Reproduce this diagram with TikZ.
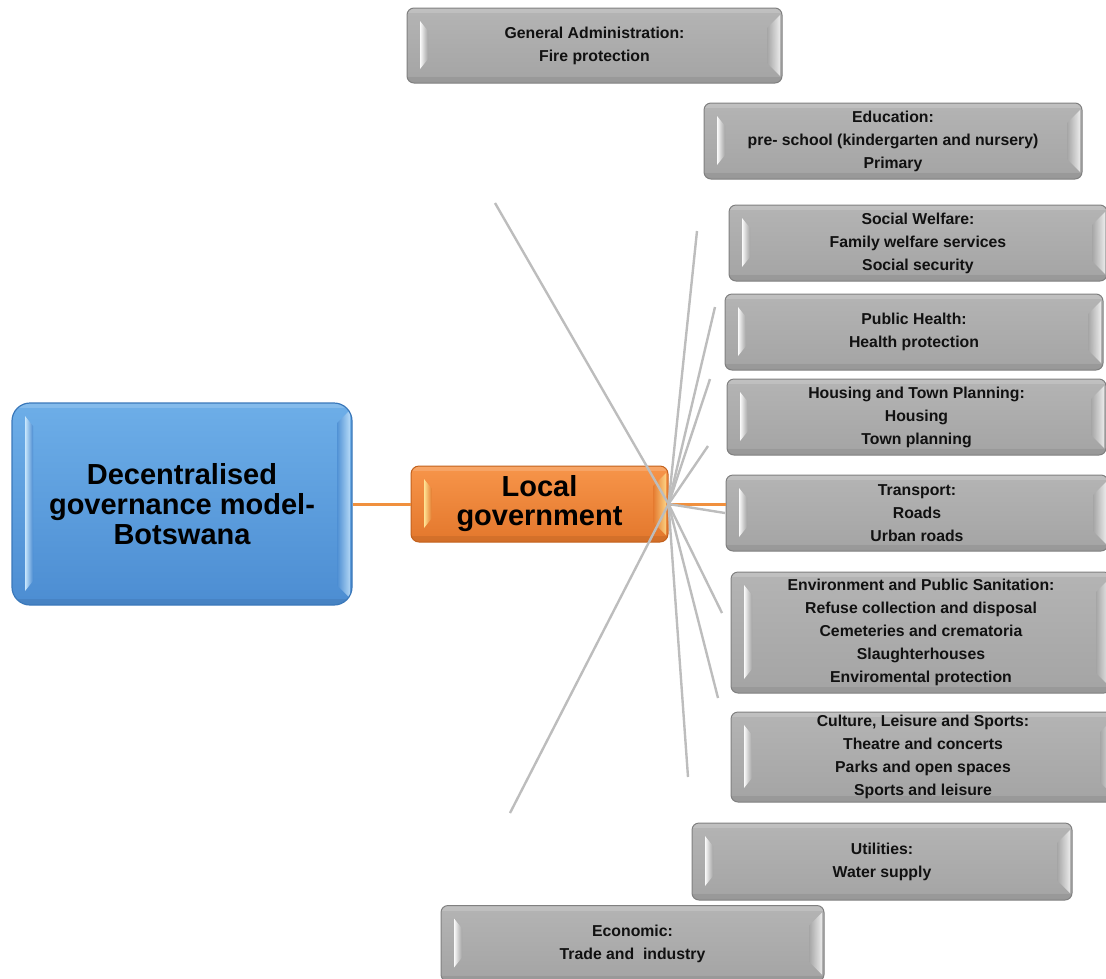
\documentclass[tikz,border=0pt]{standalone}
\usepackage{fontspec}
\setmainfont{Liberation Sans}
\usetikzlibrary{calc}

\definecolor{greytop}{HTML}{B4B4B4}
\definecolor{greybot}{HTML}{A4A4A4}
\definecolor{greyline}{HTML}{808080}
\definecolor{greyhi}{HTML}{FAFAFA}
\definecolor{bluetop}{HTML}{6DAEE8}
\definecolor{bluebot}{HTML}{4C8DD2}
\definecolor{blueline}{HTML}{3A78BA}
\definecolor{bluehi}{HTML}{C8E6FC}
\definecolor{orgtop}{HTML}{F7954A}
\definecolor{orgbot}{HTML}{E3772C}
\definecolor{orgline}{HTML}{C2611D}
\definecolor{orghi}{HTML}{FFE394}
\definecolor{spokec}{HTML}{BDBDBD}
\definecolor{linkc}{HTML}{F0903E}
\definecolor{textc}{HTML}{111111}
\colorlet{bevbasecol}{greybot}
\colorlet{bevhicol}{greyhi}

\tikzset{
  bevbase/.code={\colorlet{bevbasecol}{#1}},
  bevhi/.code={\colorlet{bevhicol}{#1}},
  % bevelled facets drawn inside a box
  bevel/.style={path picture={
    \fill[white,opacity=0.16,sharp corners]
      (path picture bounding box.north west) rectangle
      ($(path picture bounding box.north east)+(0,-5pt)$);
    \fill[black,opacity=0.07,sharp corners]
      ($(path picture bounding box.south west)+(0,6pt)$) rectangle
      (path picture bounding box.south east);
    \shade[left color=bevhicol, right color=bevbasecol, sharp corners]
      ($(path picture bounding box.north west)+(13pt,-13pt)$) --
      ($(path picture bounding box.north west)+(21pt,-23pt)$) --
      ($(path picture bounding box.south west)+(21pt,24pt)$) --
      ($(path picture bounding box.south west)+(13pt,14pt)$) -- cycle;
    \shade[left color=bevbasecol, right color=bevhicol, opacity=0.8, sharp corners]
      ($(path picture bounding box.north east)+(-15pt,-20pt)$) --
      ($(path picture bounding box.north east)+(-2pt,-7pt)$) --
      ($(path picture bounding box.south east)+(-2pt,7pt)$) --
      ($(path picture bounding box.south east)+(-15pt,20pt)$) -- cycle;
  }},
  greybox/.style={draw=greyline, line width=1pt, rounded corners=7pt,
    top color=greytop, bottom color=greybot,
    bevbase=greybot, bevhi=greyhi, bevel,
    inner sep=0pt, align=center, text=textc,
    font=\fontsize{15.8pt}{23pt}\selectfont\bfseries,
    execute at begin node={\rule{0pt}{16pt}}},
  rootbox/.style={draw=blueline, line width=1.2pt, rounded corners=18pt,
    top color=bluetop, bottom color=bluebot,
    bevbase=bluebot, bevhi=bluehi, bevel,
    inner sep=0pt, align=center, text=black,
    font=\fontsize{29pt}{30pt}\selectfont\bfseries},
  hubbox/.style={draw=orgline, line width=1pt, rounded corners=8pt,
    top color=orgtop, bottom color=orgbot,
    bevbase=orgbot, bevhi=orghi, bevel,
    inner sep=0pt, align=center, text=black,
    font=\fontsize{29pt}{29pt}\selectfont\bfseries,
    execute at begin node={\rule{0pt}{27pt}}},
  spoke/.style={draw=spokec, line width=2.4pt},
  link/.style={draw=linkc, line width=3pt}
}

\begin{document}
\begin{tikzpicture}[x=1pt,y=-1pt]
\useasboundingbox (0,0) rectangle (1106,978);

% main boxes
\node[rootbox, minimum width=340pt, minimum height=202pt] (root) at (182,504)
  {Decentralised\\governance model-\\Botswana};
\node[hubbox, minimum width=257pt, minimum height=76pt] (lg) at (539.5,504)
  {Local\\government};

% service areas
\node[greybox, minimum width=375pt, minimum height=75pt] (ga) at (594.5,45.5)
  {General Administration:\\Fire protection};
\node[greybox, minimum width=378pt, minimum height=76pt] (edu) at (893,141)
  {Education:\\pre- school (kindergarten and nursery)\\Primary};
\node[greybox, minimum width=378pt, minimum height=76pt] (sw) at (918,243)
  {Social Welfare:\\Family welfare services\\Social security};
\node[greybox, minimum width=378pt, minimum height=76pt] (ph) at (914,332)
  {Public Health:\\Health protection};
\node[greybox, minimum width=379pt, minimum height=76pt] (ht) at (916.5,417)
  {Housing and Town Planning:\\Housing\\Town planning};
\node[greybox, minimum width=382pt, minimum height=76pt] (tr) at (917,513)
  {Transport:\\Roads\\Urban roads};
\node[greybox, minimum width=380pt, minimum height=121pt] (env) at (921,632.5)
  {Environment and Public Sanitation:\\Refuse collection and disposal\\Cemeteries and crematoria\\Slaughterhouses\\Enviromental protection};
\node[greybox, minimum width=384pt, minimum height=90pt] (cls) at (923,757)
  {Culture, Leisure and Sports:\\Theatre and concerts\\Parks and open spaces\\Sports and leisure};
\node[greybox, minimum width=380pt, minimum height=77pt] (ut) at (882,861.5)
  {Utilities:\\Water supply};
\node[greybox, minimum width=383pt, minimum height=76pt] (eco) at (632.5,943.5)
  {Economic:\\Trade and \ industry};

% orange links
\draw[link] (root.east |- lg.east) -- (lg.west);
\draw[link] (lg.east) -- (lg.east -| tr.west);

% grey spokes from the hub
\coordinate (s1) at (495,203);
\coordinate (s2) at (697,231);
\coordinate (s3) at (715,307);
\coordinate (s4) at (710,379);
\coordinate (s5) at (708,446);
\coordinate (s6) at (725,513);
\coordinate (s7) at (722,613);
\coordinate (s8) at (718,698);
\coordinate (s9) at (688,777);
\coordinate (s10) at (510,813);
\foreach \s in {s1,s2,s3,s4,s5,s6,s7,s8,s9,s10}
  \draw[spoke] (lg.east) -- (\s);
\end{tikzpicture}
\end{document}
